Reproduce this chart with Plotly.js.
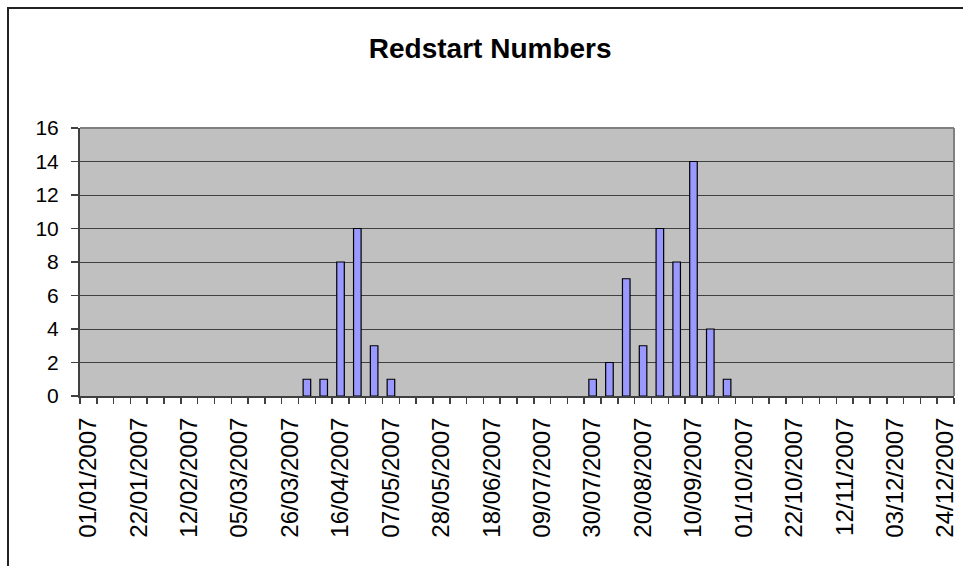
<!DOCTYPE html>
<html>
<head>
<meta charset="utf-8">
<script src="https://cdn.plot.ly/plotly-3.0.1.min.js"></script>
<style>
  html, body { margin: 0; padding: 0; background: #ffffff; }
  #wrap { position: relative; width: 963px; height: 566px; overflow: hidden; }
  #chart { position: absolute; left: 0; top: 0; width: 963px; height: 566px; }
  #frame { position: absolute; left: 7px; top: 7px; width: 1000px; height: 600px;
           border-left: 2px solid #222; border-top: 2px solid #222; pointer-events: none; }
</style>
</head>
<body>
<div id="wrap">
  <div id="chart"></div>
  <div id="frame"></div>
</div>
<script>
const weeks = [
  "01/01/2007","08/01/2007","15/01/2007","22/01/2007","29/01/2007","05/02/2007",
  "12/02/2007","19/02/2007","26/02/2007","05/03/2007","12/03/2007","19/03/2007",
  "26/03/2007","02/04/2007","09/04/2007","16/04/2007","23/04/2007","30/04/2007",
  "07/05/2007","14/05/2007","21/05/2007","28/05/2007","04/06/2007","11/06/2007",
  "18/06/2007","25/06/2007","02/07/2007","09/07/2007","16/07/2007","23/07/2007",
  "30/07/2007","06/08/2007","13/08/2007","20/08/2007","27/08/2007","03/09/2007",
  "10/09/2007","17/09/2007","24/09/2007","01/10/2007","08/10/2007","15/10/2007",
  "22/10/2007","29/10/2007","05/11/2007","12/11/2007","19/11/2007","26/11/2007",
  "03/12/2007","10/12/2007","17/12/2007","24/12/2007"
];
const redstarts = [
  0,0,0,0,0,0, 0,0,0,0,0,0,
  0,1,1,8,10,3, 1,0,0,0,0,0,
  0,0,0,0,0,0, 1,2,7,3,10,8,
  14,4,1,0,0,0, 0,0,0,0,0,0,
  0,0,0,0
];
const labelledWeeks = [
  "01/01/2007","22/01/2007","12/02/2007","05/03/2007","26/03/2007","16/04/2007",
  "07/05/2007","28/05/2007","18/06/2007","09/07/2007","30/07/2007","20/08/2007",
  "10/09/2007","01/10/2007","22/10/2007","12/11/2007","03/12/2007","24/12/2007"
];
const yTicks = [0,2,4,6,8,10,12,14,16];

const tickText = weeks.map(w => labelledWeeks.includes(w) ? w : "");
const outlineWidths = redstarts.map(v => v > 0 ? 1.2 : 0);
const FONT = "Arial, 'Liberation Sans', sans-serif";

const trace = {
  type: "bar",
  x: weeks,
  y: redstarts,
  marker: { color: "#9999FF", line: { color: "#000000", width: outlineWidths } },
  hoverinfo: "x+y"
};

const layout = {
  width: 963, height: 566,
  margin: { l: 80, r: 9, t: 128, b: 170 },
  paper_bgcolor: "#ffffff",
  plot_bgcolor: "#C0C0C0",
  showlegend: false,
  bargap: 0.55,
  font: { family: FONT, color: "#000000" },
  title: {
    text: "<b>Redstart Numbers</b>",
    font: { family: FONT, size: 28, color: "#000000" },
    xref: "container", yref: "container",
    x: 0.509, y: 0.915, xanchor: "center", yanchor: "middle"
  },
  xaxis: {
    type: "category",
    categoryorder: "array", categoryarray: weeks,
    range: [-0.5, weeks.length - 0.5],
    tickmode: "array", tickvals: weeks, ticktext: tickText,
    tickson: "boundaries",
    ticks: "outside", ticklen: 6, tickwidth: 1.5, tickcolor: "#404040",
    tickangle: -90,
    tickfont: { family: FONT, size: 24, color: "#000000" },
    ticklabelstandoff: 10,
    showgrid: false,
    showline: true, linecolor: "#404040", linewidth: 2,
    zeroline: false, fixedrange: true
  },
  yaxis: {
    range: [0, 16],
    tickmode: "array", tickvals: yTicks,
    ticks: "outside", ticklen: 7, tickwidth: 1.5, tickcolor: "#404040",
    tickfont: { family: FONT, size: 21, color: "#000000" },
    ticklabelstandoff: 8,
    showgrid: true, gridcolor: "#404040", gridwidth: 1,
    showline: true, linecolor: "#404040", linewidth: 2,
    zeroline: false, fixedrange: true
  },
  shapes: [
    { type: "line", xref: "paper", yref: "paper", x0: 0, x1: 1, y0: 1, y1: 1,
      line: { color: "#808080", width: 2 } },
    { type: "line", xref: "paper", yref: "paper", x0: 1, x1: 1, y0: 0, y1: 1,
      line: { color: "#808080", width: 2 } }
  ]
};

Plotly.newPlot("chart", [trace], layout, { displayModeBar: false, staticPlot: true });
</script>
</body>
</html>
